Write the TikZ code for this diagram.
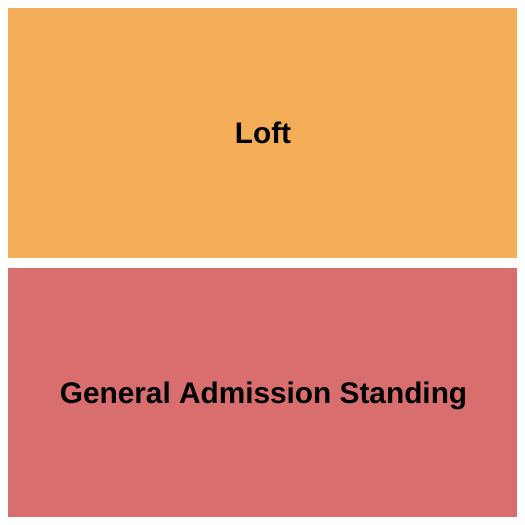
\documentclass[tikz,border=0pt]{standalone}
\usepackage{fontspec}
\setmainfont{Liberation Sans}
\usepackage{tikz}
\definecolor{loftorange}{HTML}{F4AE58}
\definecolor{garose}{HTML}{D96E6F}

\begin{document}
\begin{tikzpicture}[x=1pt,y=-1pt,
  section/.style={draw=none},
  sectionlabel/.style={anchor=base,inner sep=0pt,font=\fontsize{29.8}{30}\selectfont\bfseries}]
\useasboundingbox (0,0) rectangle (525,525);
\fill[white] (0,0) rectangle (525,525);
\fill[section,loftorange] (8,8) rectangle (517,258);
\fill[section,garose] (8,268) rectangle (517,517);
\node[sectionlabel] (loft) at (263,143) {Loft};
\node[sectionlabel] (ga) at (263.5,403) {General Admission Standing};
\end{tikzpicture}
\end{document}
